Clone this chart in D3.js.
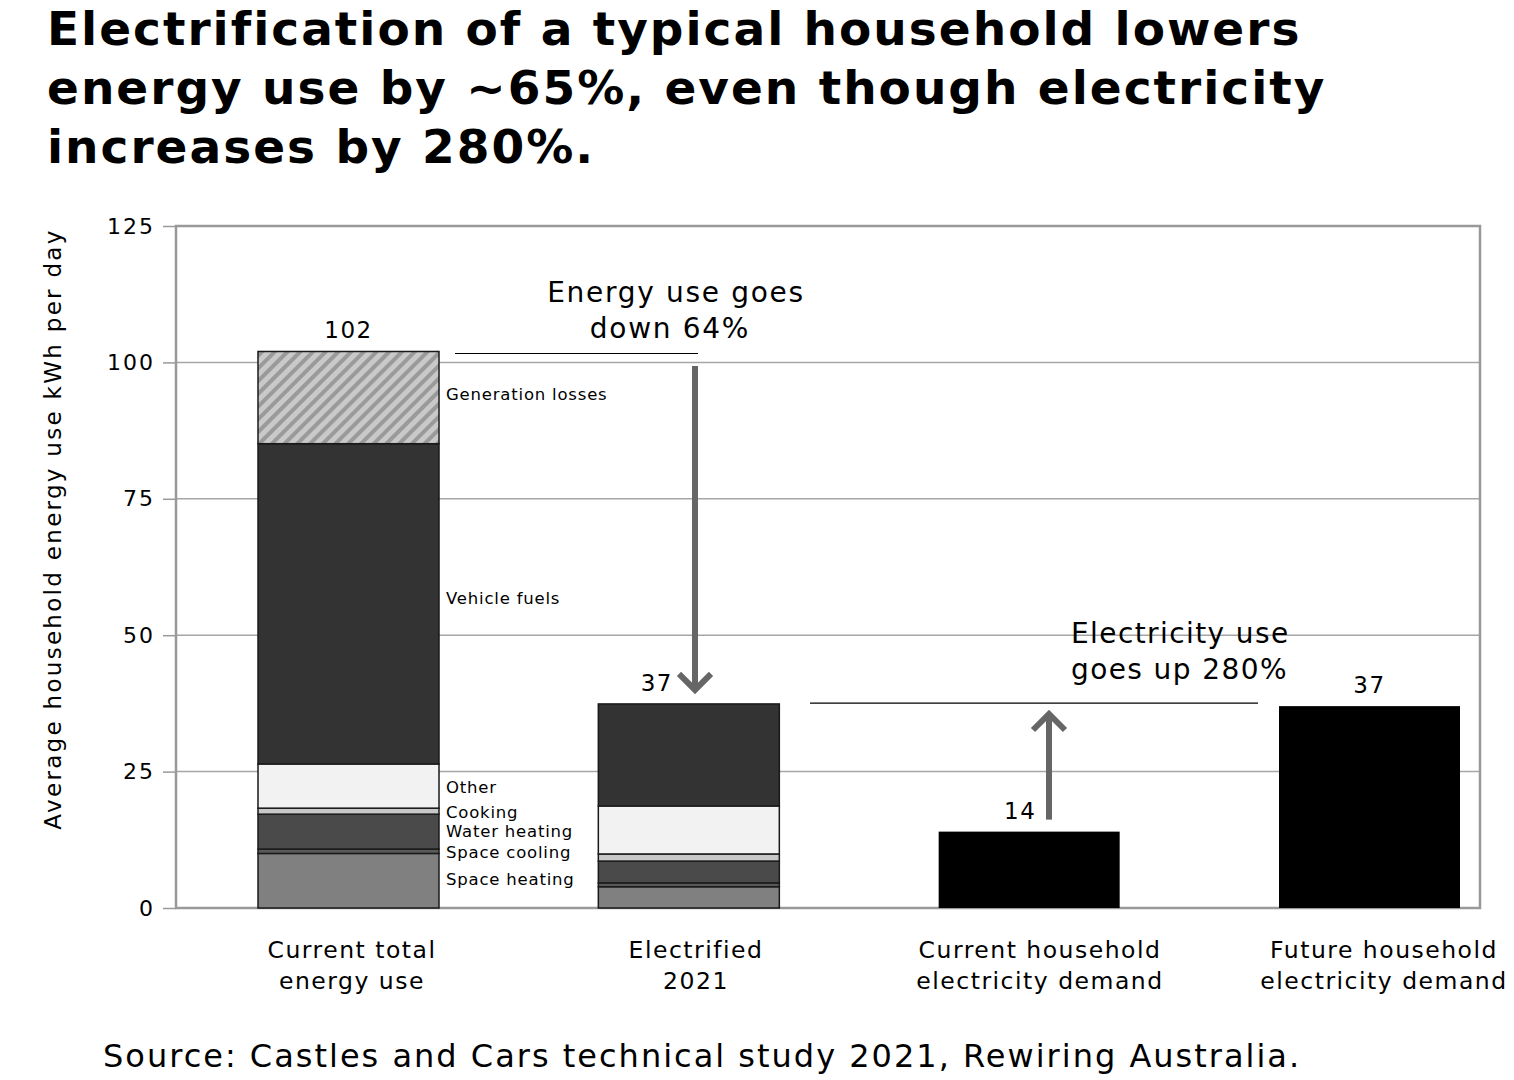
<!DOCTYPE html>
<html>
<head>
<meta charset="utf-8">
<script src="https://cdn.jsdelivr.net/npm/d3@7"></script>
<style>
  body { margin: 0; background: #fff; }
  svg { display: block; font-family: Verdana, "DejaVu Sans", sans-serif; }
</style>
</head>
<body>
<div id="chart"></div>
<script>
// data (kWh per day)
const categories = ["Current total energy use", "Electrified 2021", "Current household electricity demand", "Future household electricity demand"];
const categoryLines = [["Current total", "energy use"], ["Electrified", "2021"], ["Current household", "electricity demand"], ["Future household", "electricity demand"]];
const segments = ["Space heating", "Space cooling", "Water heating", "Cooking", "Other", "Vehicle fuels", "Generation losses"];
const currentUse = [10.0, 0.8, 6.4, 1.1, 8.1, 58.7, 16.9];
const electrifiedUse = [3.9, 0.7, 4.0, 1.3, 8.8, 18.7, 0];
const electricityDemand = [14, 37];
const totalLabels = ["102", "37", "14", "37"];
const yTicks = [0, 25, 50, 75, 100, 125];

const segColors = {
  "Space heating": "#808080",
  "Space cooling": "#5a5a5a",
  "Water heating": "#4a4a4a",
  "Cooking": "#c8c8c8",
  "Other": "#f2f2f2",
  "Vehicle fuels": "#333333",
  "Generation losses": "url(#hatch)"
};

const W = 1514, H = 1080;
const plot = { left: 176, right: 1480, top: 226, bottom: 908 };

const svg = d3.select("#chart").append("svg").attr("width", W).attr("height", H);

const defs = svg.append("defs");
const pat = defs.append("pattern").attr("id", "hatch")
  .attr("patternUnits", "userSpaceOnUse").attr("width", 9).attr("height", 9)
  .attr("patternTransform", "rotate(45)");
pat.append("rect").attr("width", 9).attr("height", 9).attr("fill", "#c9c9c9");
pat.append("rect").attr("width", 4).attr("height", 9).attr("fill", "#9a9a9a");

const y = d3.scaleLinear().domain([0, 125]).range([plot.bottom, plot.top]);
const x = d3.scalePoint().domain(categories).range([348.5, 1369.5]);
const xLabel = d3.scalePoint().domain(categories).range([352, 1384]);
const barW = 181;

// title
const title = svg.append("text").attr("x", 47).attr("font-size", 47).attr("font-weight", "bold")
  .attr("letter-spacing", 2).attr("fill", "#000");
["Electrification of a typical household lowers", "energy use by ~65%, even though electricity", "increases by 280%."]
  .forEach((t, i) => title.append("tspan").attr("x", 47).attr("y", 45 + i * 59).text(t));

// gridlines
svg.append("g").selectAll("line").data(yTicks.filter(d => d > 0 && d < 125)).join("line")
  .attr("x1", plot.left).attr("x2", plot.right)
  .attr("y1", d => y(d)).attr("y2", d => y(d))
  .attr("stroke", "#a6a6a6").attr("stroke-width", 1.5);

// y axis
const yAxis = svg.append("g").attr("transform", `translate(${plot.left},0)`)
  .call(d3.axisLeft(y).tickValues(yTicks).tickSize(13).tickPadding(8));
yAxis.select(".domain").remove();
yAxis.selectAll(".tick line").attr("stroke", "#999").attr("stroke-width", 1.5);
yAxis.selectAll(".tick text").attr("font-size", 22).attr("fill", "#000")
  .attr("font-family", "Verdana, 'DejaVu Sans', sans-serif").attr("letter-spacing", 2);

// plot frame
svg.append("rect").attr("x", plot.left).attr("y", plot.top)
  .attr("width", plot.right - plot.left).attr("height", plot.bottom - plot.top)
  .attr("fill", "none").attr("stroke", "#999").attr("stroke-width", 2.5);

// stacked bars
function stackBar(vals, cat) {
  let acc = 0;
  const rows = [];
  vals.forEach((v, i) => { if (v > 0) rows.push({ name: segments[i], y0: acc, y1: acc + v }); acc += v; });
  svg.append("g").selectAll("rect").data(rows).join("rect")
    .attr("x", x(cat) - barW / 2).attr("width", barW)
    .attr("y", d => y(d.y1)).attr("height", d => y(d.y0) - y(d.y1))
    .attr("fill", d => segColors[d.name])
    .attr("stroke", "#1a1a1a").attr("stroke-width", 1.5);
}
stackBar(currentUse, categories[0]);
stackBar(electrifiedUse, categories[1]);

// electricity bars
svg.append("g").selectAll("rect").data(electricityDemand).join("rect")
  .attr("x", (d, i) => x(categories[i + 2]) - barW / 2).attr("width", barW)
  .attr("y", d => y(d)).attr("height", d => y(0) - y(d))
  .attr("fill", "#000");

// segment labels for first bar
const segLabelY = { "Generation losses": 400, "Vehicle fuels": 604, "Other": 793, "Cooking": 818, "Water heating": 837, "Space cooling": 858, "Space heating": 885 };
svg.append("g").selectAll("text").data(segments).join("text")
  .attr("x", x(categories[0]) + barW / 2 + 7).attr("y", d => segLabelY[d])
  .attr("font-size", 16.5).attr("letter-spacing", 0.8).attr("fill", "#000").text(d => d);

// totals
const totals = [d3.sum(currentUse), d3.sum(electrifiedUse), electricityDemand[0], electricityDemand[1]];
const totalDx = [0, -32, -9, 0];
svg.append("g").selectAll("text").data(totals).join("text")
  .attr("x", (d, i) => x(categories[i]) + totalDx[i]).attr("y", d => y(d) - 13)
  .attr("text-anchor", "middle").attr("font-size", 23).attr("letter-spacing", 1.5).attr("fill", "#000")
  .text((d, i) => totalLabels[i]);

// category labels
categoryLines.forEach((lines, i) => {
  const t = svg.append("text").attr("text-anchor", "middle").attr("font-size", 23.5)
    .attr("letter-spacing", 1.5).attr("fill", "#000");
  lines.forEach((l, j) => t.append("tspan").attr("x", xLabel(categories[i])).attr("y", 958 + j * 31).text(l));
});

// arrows
function arrow(xp, yFrom, yTo) {
  const dir = yTo > yFrom ? 1 : -1;
  const g = svg.append("g").attr("stroke", "#666").attr("fill", "none").attr("stroke-width", 6);
  g.append("line").attr("x1", xp).attr("x2", xp).attr("y1", yFrom).attr("y2", yTo - dir * 2);
  g.append("polyline").attr("points", `${xp - 16},${yTo - dir * 16} ${xp},${yTo} ${xp + 16},${yTo - dir * 16}`);
}

// energy down annotation
svg.append("line").attr("x1", 455).attr("x2", 698).attr("y1", y(d3.sum(currentUse)) + 2).attr("y2", y(d3.sum(currentUse)) + 2)
  .attr("stroke", "#000").attr("stroke-width", 1.2);
arrow(695, 366, y(d3.sum(electrifiedUse)) - 14);
const t1 = svg.append("text").attr("text-anchor", "middle").attr("font-size", 28).attr("letter-spacing", 1.7).attr("fill", "#000");
t1.append("tspan").attr("x", 676).attr("y", 302).text("Energy use goes");
t1.append("tspan").attr("x", 670).attr("y", 338).text("down 64%");

// electricity up annotation
svg.append("line").attr("x1", 810).attr("x2", 1258).attr("y1", y(electricityDemand[1]) - 3).attr("y2", y(electricityDemand[1]) - 3)
  .attr("stroke", "#000").attr("stroke-width", 1.2);
arrow(1049, y(electricityDemand[0]) - 12, 714);
const t2 = svg.append("text").attr("font-size", 28).attr("letter-spacing", 1.4).attr("fill", "#000");
t2.append("tspan").attr("x", 1071).attr("y", 643).text("Electricity use");
t2.append("tspan").attr("x", 1071).attr("y", 679).text("goes up 280%");

// y axis title
svg.append("text").attr("transform", `translate(61,529) rotate(-90)`)
  .attr("text-anchor", "middle").attr("font-size", 23).attr("letter-spacing", 2.3).attr("fill", "#000")
  .text("Average household energy use kWh per day");

// source
svg.append("text").attr("x", 103).attr("y", 1067).attr("font-size", 32).attr("letter-spacing", 2)
  .attr("fill", "#000")
  .text("Source: Castles and Cars technical study 2021, Rewiring Australia.");
</script>
</body>
</html>
